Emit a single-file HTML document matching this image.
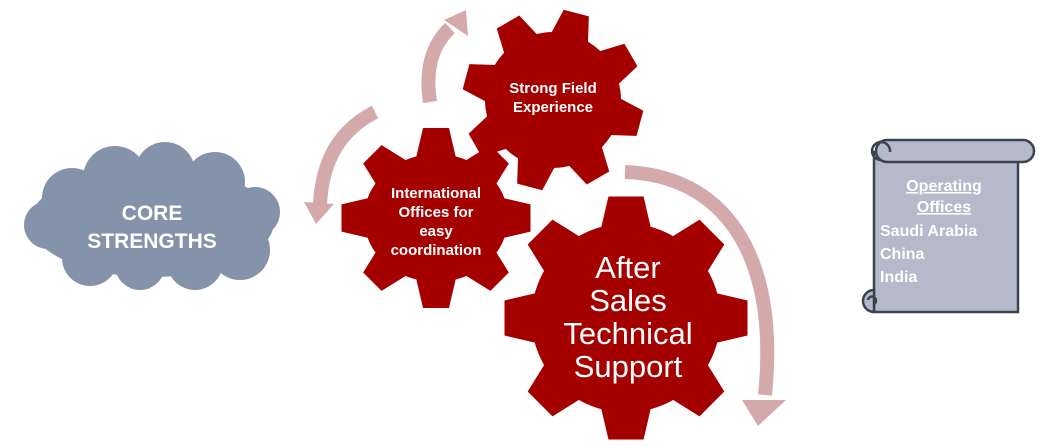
<!DOCTYPE html>
<html><head><meta charset="utf-8"><style>
body{margin:0;background:#fff;}
svg{display:block;font-family:"Liberation Sans",sans-serif;}
</style></head><body>
<svg width="1042" height="447" viewBox="0 0 1042 447">
<defs>
<g id="t8"><polygon points="-20,-60 20,-60 13,-90 -13,-90"/></g>
</defs>
<!-- arrows -->
<g fill="none" stroke="#d3a9a9" stroke-width="14">
<path d="M430,102 C425,70 432,45 450,28"/>
<path d="M375,112 C340,130 322,160 320,205"/>
<path d="M625,172 C720,175 780,250 765,395"/>
</g>
<g fill="#d3a9a9">
<polygon points="444,20 466,10 468,36"/>
<polygon points="304,202 334,204 316,224"/>
<polygon points="742,400 786,400 758,426"/>
</g>
<!-- cloud -->
<g fill="#8492aa">
<ellipse cx="152" cy="222" rx="122" ry="55"/>
<circle cx="72" cy="198" r="30"/><circle cx="115" cy="178" r="32"/><circle cx="165" cy="172" r="30"/>
<circle cx="215" cy="182" r="30"/><circle cx="255" cy="212" r="25"/><circle cx="240" cy="250" r="30"/>
<circle cx="195" cy="262" r="28"/><circle cx="140" cy="265" r="25"/><circle cx="90" cy="258" r="28"/>
<circle cx="48" cy="225" r="24"/>
</g>
<text x="152" y="220" fill="#fff" font-size="21" font-weight="bold" text-anchor="middle">CORE</text>
<text x="152" y="248" fill="#fff" font-size="21" font-weight="bold" text-anchor="middle">STRENGTHS</text>
<!-- gears -->
<g fill="#a50000">
<g transform="translate(553,100) rotate(15)">
<circle r="68"/>
<use href="#t8"/><use href="#t8" transform="rotate(45)"/><use href="#t8" transform="rotate(90)"/><use href="#t8" transform="rotate(135)"/>
<use href="#t8" transform="rotate(180)"/><use href="#t8" transform="rotate(225)"/><use href="#t8" transform="rotate(270)"/><use href="#t8" transform="rotate(315)"/>
</g>
<g transform="translate(436,218)">
<ellipse rx="72" ry="64"/>
<use href="#t8"/><use href="#t8" transform="rotate(45)"/><use href="#t8" transform="rotate(90) scale(1.05)"/><use href="#t8" transform="rotate(135)"/>
<use href="#t8" transform="rotate(180)"/><use href="#t8" transform="rotate(225)"/><use href="#t8" transform="rotate(270) scale(1.05)"/><use href="#t8" transform="rotate(315)"/>
</g>
<g transform="translate(626,318) scale(1.35)">
<circle r="70"/>
<use href="#t8"/><use href="#t8" transform="rotate(45)"/><use href="#t8" transform="rotate(90)"/><use href="#t8" transform="rotate(135)"/>
<use href="#t8" transform="rotate(180)"/><use href="#t8" transform="rotate(225)"/><use href="#t8" transform="rotate(270)"/><use href="#t8" transform="rotate(315)"/>
</g>
</g>
<g fill="#fff" font-weight="bold" text-anchor="middle" font-size="15">
<text x="553" y="93">Strong Field</text><text x="553" y="112">Experience</text>
<text x="436" y="198">International</text><text x="436" y="217">Offices for</text><text x="436" y="236">easy</text><text x="436" y="255">coordination</text>
</g>
<g fill="#fff" text-anchor="middle" font-size="31">
<text x="628" y="278">After</text><text x="628" y="311">Sales</text><text x="628" y="344">Technical</text><text x="628" y="377">Support</text>
</g>
<!-- scroll -->
<g fill="#b4bac9" stroke="#3a4350" stroke-width="2.5">
<rect x="874" y="152" width="144" height="160"/>
<rect x="876" y="140" width="158" height="22" rx="11"/>
<path d="M880,160 a9,9 0 1 1 10,-8" fill="none"/>
<path d="M874,290 a11,11 0 1 0 0,22 L874,313 Z"/>
<path d="M874,304 a4,4 0 1 0 -6,-4" fill="none"/>
</g>
<g fill="#fff" font-weight="bold" font-size="16">
<text x="944" y="191" text-anchor="middle" text-decoration="underline">Operating</text>
<text x="944" y="212" text-anchor="middle" text-decoration="underline">Offices</text>
<text x="880" y="236">Saudi Arabia</text>
<text x="880" y="259">China</text>
<text x="880" y="282">India</text>
</g>
</svg>
</body></html>
